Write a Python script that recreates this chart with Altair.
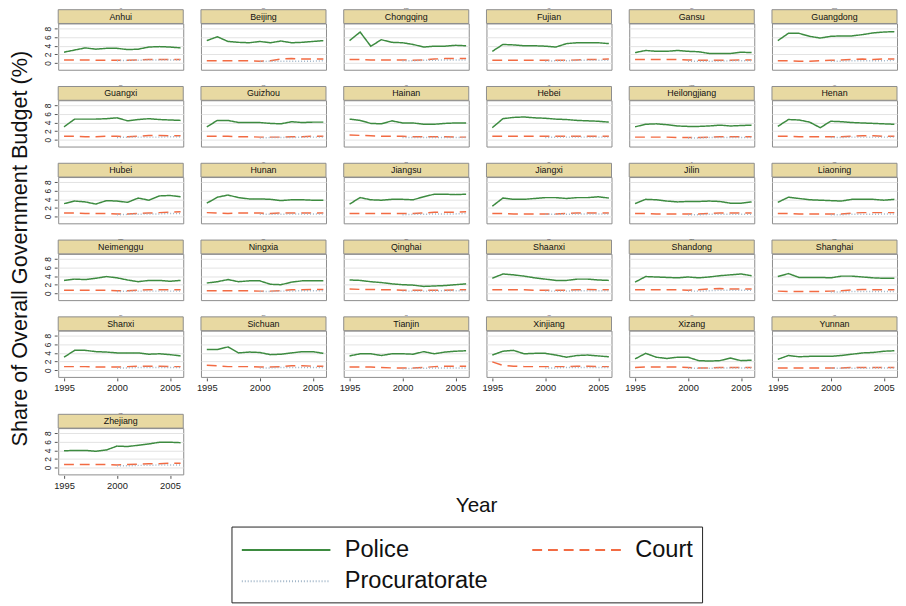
import altair as alt
import pandas as pd

YEARS = list(range(1995, 2007))
PROC_YEARS = list(range(2000, 2007))
SERIES = ["Police", "Court", "Procuratorate"]
COLORS = ["#3d8b40", "#f26b43", "#9fb4c7"]

PROVINCES = ["Anhui", "Beijing", "Chongqing", "Fujian", "Gansu", "Guangdong",
             "Guangxi", "Guizhou", "Hainan", "Hebei", "Heilongjiang", "Henan",
             "Hubei", "Hunan", "Jiangsu", "Jiangxi", "Jilin", "Liaoning",
             "Neimenggu", "Ningxia", "Qinghai", "Shaanxi", "Shandong", "Shanghai",
             "Shanxi", "Sichuan", "Tianjin", "Xinjiang", "Xizang", "Yunnan",
             "Zhejiang"]

POLICE = {
    "Anhui":        [2.5, 3.0, 3.5, 3.2, 3.4, 3.4, 3.1, 3.2, 3.7, 3.8, 3.7, 3.5],
    "Beijing":      [5.2, 6.1, 5.0, 4.8, 4.7, 5.0, 4.7, 5.1, 4.7, 4.8, 5.0, 5.2],
    "Chongqing":    [5.2, 7.2, 3.9, 5.4, 4.8, 4.7, 4.3, 3.7, 3.9, 3.9, 4.1, 4.0],
    "Fujian":       [2.7, 4.3, 4.2, 4.0, 4.0, 3.9, 3.7, 4.5, 4.7, 4.7, 4.7, 4.5],
    "Gansu":        [2.4, 2.9, 2.7, 2.7, 2.9, 2.7, 2.6, 2.2, 2.2, 2.2, 2.5, 2.4],
    "Guangdong":    [5.2, 6.9, 6.9, 6.2, 5.8, 6.2, 6.3, 6.3, 6.6, 7.0, 7.2, 7.3],
    "Guangxi":      [3.0, 4.8, 4.8, 4.8, 4.9, 5.1, 4.4, 4.7, 4.9, 4.7, 4.6, 4.5],
    "Guizhou":      [3.0, 4.5, 4.5, 4.0, 4.0, 4.0, 3.8, 3.7, 4.2, 4.0, 4.1, 4.1],
    "Hainan":       [4.8, 4.5, 3.8, 3.7, 4.4, 3.9, 3.9, 3.6, 3.6, 3.8, 3.9, 3.9],
    "Hebei":        [2.8, 4.9, 5.2, 5.3, 5.1, 5.0, 4.8, 4.7, 4.5, 4.4, 4.3, 4.1],
    "Heilongjiang": [3.0, 3.6, 3.7, 3.5, 3.2, 3.1, 3.1, 3.2, 3.4, 3.2, 3.3, 3.4],
    "Henan":        [3.1, 4.7, 4.6, 4.1, 2.8, 4.3, 4.2, 4.0, 3.9, 3.8, 3.7, 3.6],
    "Hubei":        [3.0, 3.6, 3.4, 2.9, 3.7, 3.6, 3.3, 4.3, 3.8, 4.8, 4.9, 4.6],
    "Hunan":        [3.1, 4.5, 5.0, 4.4, 4.1, 4.1, 4.0, 3.7, 3.9, 3.9, 3.8, 3.8],
    "Jiangsu":      [2.9, 4.4, 3.9, 3.8, 4.0, 4.0, 3.9, 4.6, 5.2, 5.2, 5.1, 5.2],
    "Jiangxi":      [2.4, 4.3, 4.0, 4.0, 4.2, 4.4, 4.4, 4.2, 4.4, 4.4, 4.6, 4.3],
    "Jilin":        [3.0, 4.0, 3.9, 3.6, 3.4, 3.5, 3.5, 3.6, 3.5, 3.1, 3.1, 3.4],
    "Liaoning":     [3.3, 4.5, 4.2, 3.9, 3.8, 3.7, 3.6, 4.0, 4.0, 4.0, 3.8, 4.0],
    "Neimenggu":    [3.0, 3.3, 3.2, 3.5, 3.9, 3.6, 3.1, 2.7, 3.0, 3.0, 2.8, 3.0],
    "Ningxia":      [2.4, 2.7, 3.2, 2.7, 2.9, 2.9, 2.1, 2.0, 2.6, 2.9, 2.9, 2.9],
    "Qinghai":      [3.1, 3.0, 2.7, 2.5, 2.2, 2.0, 1.9, 1.6, 1.7, 1.8, 2.0, 2.2],
    "Shaanxi":      [3.5, 4.5, 4.3, 4.0, 3.6, 3.3, 3.0, 3.0, 3.3, 3.3, 3.1, 3.0],
    "Shandong":     [2.6, 3.9, 3.8, 3.7, 3.6, 3.8, 3.6, 3.8, 4.1, 4.3, 4.5, 4.1],
    "Shanghai":     [3.9, 4.6, 3.7, 3.7, 3.7, 3.6, 4.0, 4.0, 3.8, 3.6, 3.5, 3.5],
    "Shanxi":       [3.0, 4.6, 4.6, 4.3, 4.2, 4.0, 4.0, 4.0, 3.7, 3.8, 3.6, 3.3],
    "Sichuan":      [4.8, 4.8, 5.4, 4.0, 4.2, 4.1, 3.6, 3.7, 4.0, 4.3, 4.3, 3.9],
    "Tianjin":      [3.3, 3.8, 3.8, 3.4, 3.8, 3.8, 3.7, 4.3, 3.8, 4.2, 4.4, 4.5],
    "Xinjiang":     [3.5, 4.4, 4.6, 3.8, 3.9, 3.9, 3.5, 3.0, 3.4, 3.5, 3.3, 3.1],
    "Xizang":       [2.6, 3.9, 3.0, 2.7, 3.0, 3.0, 2.2, 2.1, 2.2, 2.8, 2.2, 2.3],
    "Yunnan":       [2.5, 3.4, 3.1, 3.2, 3.2, 3.2, 3.4, 3.7, 4.0, 4.1, 4.4, 4.5],
    "Zhejiang":     [3.9, 4.0, 4.0, 3.8, 4.1, 5.0, 4.9, 5.2, 5.5, 5.9, 5.9, 5.8],
}

COURT = {
    "Anhui":        [0.7, 0.7, 0.7, 0.6, 0.6, 0.6, 0.6, 0.7, 0.8, 0.8, 0.8, 0.8],
    "Beijing":      [0.5, 0.5, 0.5, 0.5, 0.5, 0.4, 0.5, 0.9, 1.0, 0.9, 0.9, 0.9],
    "Chongqing":    [0.8, 0.8, 0.7, 0.7, 0.7, 0.7, 0.6, 0.7, 0.9, 1.0, 1.0, 1.0],
    "Fujian":       [0.6, 0.6, 0.6, 0.6, 0.6, 0.6, 0.6, 0.6, 0.7, 0.8, 0.8, 0.9],
    "Gansu":        [0.8, 0.8, 0.8, 0.8, 0.8, 0.7, 0.6, 0.6, 0.6, 0.6, 0.7, 0.7],
    "Guangdong":    [0.5, 0.5, 0.4, 0.4, 0.5, 0.6, 0.7, 0.8, 0.9, 0.8, 0.9, 0.9],
    "Guangxi":      [0.8, 0.8, 0.7, 0.7, 0.8, 0.8, 0.7, 0.8, 1.0, 1.0, 0.9, 0.9],
    "Guizhou":      [0.8, 0.8, 0.8, 0.7, 0.7, 0.6, 0.6, 0.6, 0.7, 0.7, 0.8, 0.8],
    "Hainan":       [1.1, 1.0, 0.9, 0.8, 0.8, 0.8, 0.7, 0.7, 0.7, 0.7, 0.6, 0.6],
    "Hebei":        [0.8, 0.8, 0.8, 0.8, 0.8, 0.8, 0.8, 0.8, 0.8, 0.8, 0.8, 0.8],
    "Heilongjiang": [0.6, 0.6, 0.6, 0.6, 0.5, 0.5, 0.5, 0.6, 0.7, 0.7, 0.7, 0.7],
    "Henan":        [0.8, 0.8, 0.7, 0.7, 0.7, 0.7, 0.7, 0.8, 0.9, 0.9, 0.8, 0.8],
    "Hubei":        [0.8, 0.8, 0.7, 0.7, 0.7, 0.6, 0.6, 0.7, 0.8, 0.9, 1.0, 1.1],
    "Hunan":        [0.9, 0.8, 0.7, 0.8, 0.8, 0.8, 0.7, 0.8, 0.8, 0.8, 0.8, 0.8],
    "Jiangsu":      [0.7, 0.7, 0.7, 0.7, 0.7, 0.7, 0.7, 0.8, 1.0, 1.0, 1.0, 1.1],
    "Jiangxi":      [0.7, 0.7, 0.6, 0.6, 0.6, 0.6, 0.6, 0.7, 0.8, 0.8, 0.8, 0.8],
    "Jilin":        [0.7, 0.7, 0.6, 0.6, 0.6, 0.6, 0.6, 0.7, 0.8, 0.8, 0.8, 0.8],
    "Liaoning":     [0.7, 0.7, 0.6, 0.6, 0.6, 0.6, 0.6, 0.8, 0.9, 0.9, 0.9, 0.9],
    "Neimenggu":    [0.7, 0.7, 0.7, 0.7, 0.7, 0.6, 0.6, 0.7, 0.8, 0.8, 0.8, 0.8],
    "Ningxia":      [0.6, 0.6, 0.6, 0.6, 0.6, 0.5, 0.5, 0.6, 0.8, 0.8, 0.9, 0.9],
    "Qinghai":      [1.0, 0.9, 0.9, 0.8, 0.8, 0.7, 0.7, 0.7, 0.7, 0.7, 0.8, 0.8],
    "Shaanxi":      [0.8, 0.8, 0.8, 0.8, 0.7, 0.7, 0.7, 0.7, 0.8, 0.9, 0.8, 0.8],
    "Shandong":     [0.8, 0.8, 0.8, 0.8, 0.8, 0.7, 0.8, 1.0, 1.1, 1.0, 1.0, 1.0],
    "Shanghai":     [0.5, 0.4, 0.4, 0.4, 0.4, 0.5, 0.6, 0.8, 0.9, 0.8, 0.8, 0.8],
    "Shanxi":       [0.8, 0.8, 0.8, 0.7, 0.7, 0.7, 0.8, 0.9, 0.9, 0.9, 0.8, 0.8],
    "Sichuan":      [1.1, 1.0, 0.8, 0.8, 0.8, 0.7, 0.7, 0.8, 1.0, 1.0, 0.9, 0.9],
    "Tianjin":      [0.7, 0.7, 0.7, 0.6, 0.5, 0.5, 0.5, 0.6, 0.8, 0.9, 0.9, 0.9],
    "Xinjiang":     [1.9, 1.1, 0.9, 0.8, 0.8, 0.8, 0.8, 0.8, 0.9, 0.9, 0.8, 0.8],
    "Xizang":       [0.6, 0.7, 0.7, 0.7, 0.7, 0.6, 0.5, 0.5, 0.6, 0.6, 0.6, 0.6],
    "Yunnan":       [0.5, 0.5, 0.5, 0.5, 0.5, 0.5, 0.5, 0.6, 0.6, 0.6, 0.6, 0.6],
    "Zhejiang":     [0.7, 0.7, 0.7, 0.7, 0.7, 0.6, 0.7, 0.8, 0.9, 0.9, 1.0, 1.0],
}

PROCURATORATE = {
    "Anhui":        [0.5, 0.6, 0.6, 0.7, 0.7, 0.7, 0.7],
    "Beijing":      [0.3, 0.4, 0.4, 0.4, 0.4, 0.4, 0.5],
    "Chongqing":    [0.5, 0.5, 0.6, 0.6, 0.7, 0.7, 0.7],
    "Fujian":       [0.4, 0.5, 0.5, 0.6, 0.6, 0.6, 0.6],
    "Gansu":        [0.4, 0.4, 0.4, 0.4, 0.5, 0.5, 0.5],
    "Guangdong":    [0.4, 0.4, 0.5, 0.5, 0.5, 0.5, 0.6],
    "Guangxi":      [0.5, 0.6, 0.6, 0.6, 0.6, 0.7, 0.7],
    "Guizhou":      [0.4, 0.5, 0.5, 0.5, 0.6, 0.6, 0.6],
    "Hainan":       [0.5, 0.5, 0.5, 0.5, 0.5, 0.5, 0.5],
    "Hebei":        [0.5, 0.6, 0.6, 0.6, 0.6, 0.6, 0.6],
    "Heilongjiang": [0.4, 0.4, 0.5, 0.5, 0.5, 0.5, 0.5],
    "Henan":        [0.5, 0.5, 0.6, 0.6, 0.6, 0.6, 0.6],
    "Hubei":        [0.4, 0.5, 0.5, 0.6, 0.6, 0.7, 0.7],
    "Hunan":        [0.5, 0.5, 0.5, 0.6, 0.6, 0.6, 0.6],
    "Jiangsu":      [0.4, 0.5, 0.5, 0.6, 0.6, 0.6, 0.7],
    "Jiangxi":      [0.5, 0.5, 0.5, 0.6, 0.6, 0.6, 0.6],
    "Jilin":        [0.4, 0.4, 0.5, 0.5, 0.5, 0.5, 0.5],
    "Liaoning":     [0.4, 0.4, 0.5, 0.5, 0.5, 0.6, 0.6],
    "Neimenggu":    [0.4, 0.5, 0.5, 0.5, 0.5, 0.5, 0.5],
    "Ningxia":      [0.4, 0.4, 0.5, 0.5, 0.6, 0.6, 0.6],
    "Qinghai":      [0.5, 0.5, 0.5, 0.5, 0.6, 0.6, 0.6],
    "Shaanxi":      [0.5, 0.5, 0.5, 0.6, 0.6, 0.6, 0.6],
    "Shandong":     [0.5, 0.5, 0.6, 0.7, 0.7, 0.7, 0.7],
    "Shanghai":     [0.3, 0.3, 0.4, 0.4, 0.4, 0.4, 0.4],
    "Shanxi":       [0.5, 0.5, 0.6, 0.6, 0.6, 0.6, 0.6],
    "Sichuan":      [0.5, 0.5, 0.6, 0.6, 0.6, 0.6, 0.6],
    "Tianjin":      [0.3, 0.4, 0.4, 0.5, 0.5, 0.5, 0.5],
    "Xinjiang":     [0.5, 0.5, 0.6, 0.6, 0.6, 0.6, 0.6],
    "Xizang":       [0.4, 0.4, 0.4, 0.5, 0.5, 0.5, 0.5],
    "Yunnan":       [0.4, 0.4, 0.4, 0.4, 0.5, 0.5, 0.5],
    "Zhejiang":     [0.4, 0.4, 0.5, 0.5, 0.6, 0.6, 0.6],
}

rows = []
for p in PROVINCES:
    for y, v in zip(YEARS, POLICE[p]):
        rows.append({"prov": p, "year": y, "series": "Police", "value": v})
    for y, v in zip(YEARS, COURT[p]):
        rows.append({"prov": p, "year": y, "series": "Court", "value": v})
    for y, v in zip(PROC_YEARS, PROCURATORATE[p]):
        rows.append({"prov": p, "year": y, "series": "Procuratorate", "value": v})
df = pd.DataFrame(rows)

FONT = "Liberation Sans"
W, H = 127, 47

base = alt.Chart()

strip = base.mark_rect(fill="#e8d9a2", stroke="#8c8c8c", strokeWidth=1).encode(
    x=alt.value(0), x2=alt.value(W), y=alt.value(-14), y2=alt.value(0)
).transform_filter("datum.year == 1995 && datum.series == 'Police'")

strip_text = base.mark_text(fontSize=9, font=FONT, color="#111", baseline="middle").encode(
    x=alt.value(W / 2), y=alt.value(-7), text="prov:N"
).transform_filter("datum.year == 1995 && datum.series == 'Police'")

legend = alt.Legend(
    title=None, orient="none", legendX=176, legendY=511, columns=2, direction="horizontal",
    values=SERIES,
    symbolType="M-3.333,0H3.333", symbolSize=729, symbolStrokeWidth=2, symbolOffset=32,
    labelFontSize=24, labelFont=FONT, labelColor="#111", labelOffset=45,
    columnPadding=40, rowPadding=5, strokeColor="#222", padding=9,
)

lines = base.mark_line(strokeWidth=1.5).encode(
    x=alt.X("year:Q", scale=alt.Scale(domain=[1994.45, 2006.25], nice=False, zero=False),
            axis=alt.Axis(values=[1995, 2000, 2005], format="d", title=None, grid=False,
                          labelFontSize=9.5, labelFont=FONT, tickSize=3, labelPadding=2)),
    y=alt.Y("value:Q", scale=alt.Scale(domain=[-1.6, 9.2], nice=False, zero=False),
            axis=alt.Axis(values=[0, 2, 4, 6, 8], title=None, labelAngle=270,
                          labelAlign="center", labelBaseline="bottom",
                          labelFontSize=8.5, labelFont=FONT, tickSize=3, labelPadding=2,
                          grid=True, gridColor="#e3e3e3")),
    color=alt.Color("series:N", scale=alt.Scale(domain=SERIES, range=COLORS), legend=legend),
    strokeDash=alt.StrokeDash("series:N", scale=alt.Scale(domain=SERIES, range=[[1, 0], [10, 6], [1, 2]]),
                              legend=legend),
    detail="series:N",
)

panel = alt.layer(lines, strip, strip_text).properties(width=W, height=H)

hdr = alt.Header(labels=False, title=None, labelFontSize=1, labelPadding=0)

main_provs = PROVINCES[:30]
last_provs = PROVINCES[30:]

top = panel.properties(data=df[df.prov.isin(main_provs)]).facet(
    facet=alt.Facet("prov:N", sort=main_provs, header=hdr),
    columns=6,
    spacing={"row": 14, "column": 16},
)
bottom = panel.properties(data=df[df.prov.isin(last_provs)]).facet(
    facet=alt.Facet("prov:N", sort=last_provs, header=hdr),
    columns=6,
    spacing={"row": 14, "column": 16},
)

panels = alt.vconcat(top, bottom, spacing=20).properties(
    title=alt.TitleParams("Share of Overall Government Budget (%)", orient="left", anchor="middle",
                          fontSize=22, font=FONT, fontWeight="normal", color="#111", offset=12),
)

year_label = alt.Chart(pd.DataFrame({"t": ["Year"]})).mark_text(
    fontSize=21, font=FONT, color="#111", baseline="middle"
).encode(text="t:N").properties(width=850, height=20, view=alt.ViewBackground(stroke="transparent"))

chart = alt.vconcat(panels, year_label, spacing=4).properties(
    padding={"left": 0, "top": -5, "right": 0, "bottom": 0}
).configure_view(stroke="#8c8c8c", strokeWidth=1).configure_axis(
    domain=False, tickColor="#555", labelColor="#222"
).configure_header(labels=False, title=None)

chart.save("out.html", embed_options={"renderer": "svg", "actions": False})
